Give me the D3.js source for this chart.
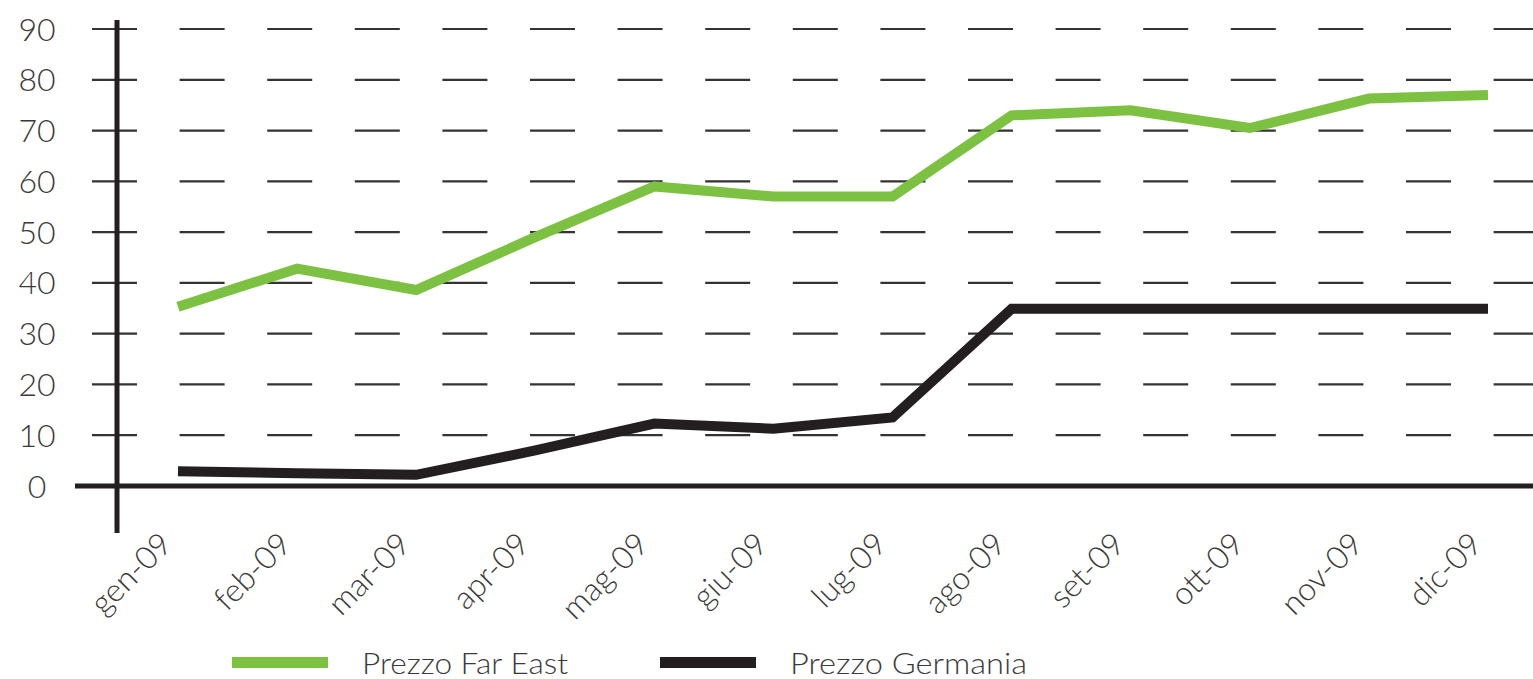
<!DOCTYPE html>
<html><head><meta charset="utf-8">
<script src="https://cdn.jsdelivr.net/npm/d3@7/dist/d3.min.js"></script>
<style>html,body{margin:0;padding:0;background:#fff;}svg{display:block;}</style>
</head><body>
<svg id="c" width="1533" height="679"></svg>
<script>
const months = ["gen-09","feb-09","mar-09","apr-09","mag-09","giu-09","lug-09","ago-09","set-09","ott-09","nov-09","dic-09"];
const farEast = [35.3, 42.8, 38.6, 49, 59, 57, 57, 73, 74, 70.5, 76.3, 77];
const germania = [2.9, 2.5, 2.2, 7, 12.3, 11.3, 13.5, 34.9, 34.9, 34.9, 34.9, 34.9];
const yTicks = [0,10,20,30,40,50,60,70,80,90];
const seriesNames = ["Prezzo Far East","Prezzo Germania"];
const seriesColors = ["#7cc142","#231f20"];

const svg = d3.select("#c");
const font = "'Lato', 'DejaVu Sans', sans-serif";
const x = d3.scalePoint().domain(months).range([178, 1488]);
const y = d3.scaleLinear().domain([0, 90]).range([486, 29]);

// dashed gridlines
svg.append("g").selectAll("line").data(yTicks.filter(d => d > 0)).join("line")
  .attr("x1", 92).attr("x2", 1533)
  .attr("y1", d => y(d)).attr("y2", d => y(d))
  .attr("stroke", "#333").attr("stroke-width", 2.2)
  .attr("stroke-dasharray", "45 42.6");

// y labels
svg.append("g").selectAll("text").data(yTicks).join("text")
  .attr("x", 37).attr("y", d => y(d)).attr("dy", "0.36em")
  .attr("text-anchor", "middle")
  .attr("font-family", font).attr("font-weight", 300).attr("font-size", 32)
  .attr("fill", "#3a3a3a").text(d => d);

// vertical axis
svg.append("line").attr("x1", 117).attr("x2", 117).attr("y1", 20).attr("y2", 533)
  .attr("stroke", "#231f20").attr("stroke-width", 5);
// zero axis
svg.append("line").attr("x1", 75).attr("x2", 1533).attr("y1", y(0)).attr("y2", y(0))
  .attr("stroke", "#231f20").attr("stroke-width", 5);

// x labels
svg.append("g").selectAll("text").data(months).join("text")
  .attr("transform", d => `translate(${x(d) - 4},${546}) rotate(-45)`)
  .attr("text-anchor", "end")
  .attr("font-family", font).attr("font-weight", 300).attr("font-size", 32)
  .attr("fill", "#3a3a3a").text(d => d);

const line = d3.line().x((d, i) => x(months[i])).y(d => y(d));
[farEast, germania].forEach((s, k) => {
  svg.append("path").datum(s).attr("d", line)
    .attr("fill", "none").attr("stroke", seriesColors[k])
    .attr("stroke-width", 10).attr("stroke-linejoin", "miter");
});

// legend
const leg = [{sx: 232, tx: 362, tw: 206}, {sx: 660, tx: 790, tw: 237}];
seriesNames.forEach((n, k) => {
  svg.append("rect").attr("x", leg[k].sx).attr("y", 657).attr("width", 96).attr("height", 11)
    .attr("fill", seriesColors[k]);
  svg.append("text").attr("x", leg[k].tx).attr("y", 674)
    .attr("font-family", font).attr("font-weight", 300).attr("font-size", 30)
    .attr("textLength", leg[k].tw).attr("lengthAdjust", "spacingAndGlyphs")
    .attr("fill", "#3a3a3a").text(n);
});
</script>
</body></html>
